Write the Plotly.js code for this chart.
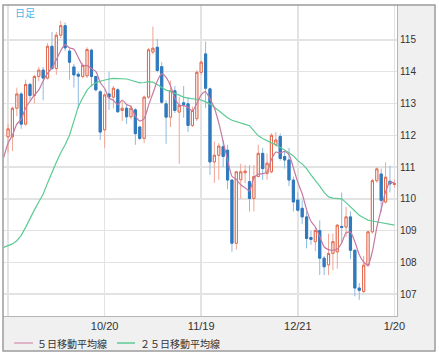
<!DOCTYPE html>
<html>
<head>
<meta charset="utf-8">
<script src="https://cdn.plot.ly/plotly-3.0.1.min.js"></script>
<style>
  html, body { margin: 0; padding: 0; background: #ffffff; }
  #chart { width: 439px; height: 356px; }
</style>
</head>
<body>
<div id="chart"></div>
<script>
// ---- data (daily candles, index 0..88) ----
const open = [111.95,111.95,112.85,113.3,112.35,113.6,113.25,113.85,114.05,113.8,
  114.8,114.1,115.15,115.45,114.65,114.15,113.92,113.85,113.87,114.68,
  113.85,113.37,112.17,113.3,113.2,113.43,112.78,112.85,112.58,112.8,
  112.26,111.9,113.2,114.62,114.77,114.16,112.99,112.57,113.4,112.73,
  113.02,112.99,112.31,112.52,113.98,114.56,113.46,111.16,111.37,111.64,
  111.53,110.59,108.6,110.6,110.82,110.54,110.01,110.7,111.43,110.8,
  110.85,111.7,111.96,111.33,111.22,110.59,109.96,109.7,109.43,108.78,
  108.65,109.0,108.13,107.92,108.28,108.33,109.13,109.11,109.43,108.38,
  107.19,107.08,107.91,108.96,110.57,110.78,109.9,110.55,110.45];
const high = [112.35,112.9,113.5,113.35,113.75,113.65,113.9,114.15,114.15,114.9,
  115.25,115.25,115.6,115.55,114.72,114.25,114.0,114.27,114.77,114.72,
  113.87,113.42,113.32,114.0,113.55,113.48,113.1,112.95,112.95,112.85,
  112.3,113.25,114.75,115.42,115.03,114.3,113.1,113.72,113.55,113.2,
  113.55,113.2,112.9,114.05,114.35,114.95,113.5,111.8,111.75,111.85,
  111.7,110.6,110.85,111.1,111.06,111.06,111.06,111.7,111.6,111.43,
  112.06,112.1,112.06,111.48,111.6,110.7,110.2,109.95,109.6,109.0,
  109.1,109.32,108.2,108.9,108.9,109.2,110.2,109.75,109.6,108.4,
  107.35,108.2,109.0,110.63,110.99,110.95,111.15,111.04,110.6];
const low = [111.45,111.5,112.6,112.2,112.3,113.1,113.0,113.7,113.1,113.75,
  114.05,113.9,115.05,114.65,113.75,113.5,112.85,113.8,113.8,113.53,
  113.38,111.85,111.6,112.8,112.85,112.7,112.45,112.35,112.5,111.7,
  111.85,111.75,113.15,114.55,113.98,112.99,111.73,112.26,112.7,111.1,
  112.55,112.1,112.26,112.45,113.9,112.85,110.75,110.5,110.6,111.0,
  110.3,108.33,108.4,110.0,110.49,109.6,109.6,110.7,110.6,110.6,
  110.8,111.65,111.2,110.95,110.4,109.6,109.6,109.2,108.44,108.55,
  108.35,107.6,107.6,107.6,107.75,107.8,108.6,108.8,108.1,106.93,
  106.82,107.03,107.85,108.9,110.5,109.58,109.85,110.2,110.35];
const close = [112.2,112.85,113.3,112.35,113.6,113.25,113.85,114.05,113.8,114.8,
  114.1,115.15,115.45,114.75,114.3,113.9,113.86,114.2,114.7,113.85,
  113.43,112.1,113.27,113.2,113.48,112.74,112.85,112.58,112.85,112.05,
  111.9,113.2,114.69,114.74,114.04,113.04,112.57,113.4,112.78,112.94,
  112.97,112.31,112.78,113.98,114.3,113.48,111.16,111.37,111.66,111.33,
  110.59,108.6,110.85,110.85,110.87,110.01,110.7,111.43,110.95,111.12,
  112.0,111.85,111.27,111.22,110.59,109.9,109.64,109.43,108.75,108.72,
  109.0,108.13,107.86,108.28,108.65,109.17,109.1,109.43,108.38,107.19,
  107.12,107.91,108.96,110.57,110.94,109.95,110.68,110.47,110.48];

// moving averages, index -1..88
const ma5 = [111.3,111.75,112.0,112.35,112.5,112.86,113.07,113.27,113.42,113.71,113.95,
  114.12,114.38,114.66,114.85,114.75,114.71,114.45,114.2,114.19,114.1,
  114.01,113.66,113.47,113.17,113.1,112.96,113.11,112.97,112.9,112.61,
  112.45,112.52,112.94,113.32,113.71,113.94,113.82,113.56,113.17,112.95,
  112.93,112.88,112.76,113.0,113.27,113.37,113.14,112.86,112.39,111.8,
  111.22,110.71,110.61,110.44,110.35,110.24,110.66,110.77,110.79,110.84,
  111.24,111.47,111.44,111.49,111.39,110.97,110.52,110.16,109.66,109.29,
  109.11,108.81,108.49,108.4,108.38,108.42,108.61,108.93,108.95,108.65,
  108.24,108.01,107.91,108.35,109.1,109.67,110.22,110.52,110.5];
const ma25 = [108.47,108.52,108.58,108.68,108.85,109.1,109.4,109.65,109.9,110.15,110.5,
  110.85,111.15,111.45,111.7,112.0,112.45,112.9,113.17,113.42,113.57,
  113.65,113.7,113.74,113.77,113.79,113.79,113.78,113.77,113.73,113.68,
  113.65,113.66,113.69,113.67,113.6,113.5,113.42,113.38,113.32,113.25,
  113.2,113.17,113.15,113.13,113.11,113.05,112.98,112.88,112.76,112.65,
  112.55,112.47,112.42,112.38,112.34,112.3,112.15,111.98,111.9,111.82,
  111.76,111.7,111.62,111.52,111.45,111.35,111.2,111.1,110.95,110.75,
  110.58,110.4,110.2,110.06,110.02,110.02,110.0,109.88,109.74,109.6,
  109.48,109.4,109.33,109.3,109.27,109.24,109.21,109.19,109.17];

const tickIdx = [0, 22, 44, 66, 88];
const tickLabels = ['', '10/20', '11/19', '12/21', '1/20'];
const yTicks = [107, 108, 109, 110, 111, 112, 113, 114, 115];
const legendNames = ['５日移動平均線', '２５日移動平均線'];

// ---- build traces ----
const days = open.map((_, i) => i);
const maDays = ma5.map((_, i) => i - 1);
const bodyHigh = open.map((o, i) => Math.max(o, close[i]));
const bodyLow = open.map((o, i) => Math.min(o, close[i]));

const wicks = {
  type: 'candlestick', x: days, open: open, high: high, low: low, close: close,
  increasing: { line: { color: '#f0a594', width: 1 }, fillcolor: '#ffffff' },
  decreasing: { line: { color: '#8dbbe3', width: 1 }, fillcolor: '#8dbbe3' },
  whiskerwidth: 0, showlegend: false, hoverinfo: 'skip'
};
const bodies = {
  type: 'candlestick', x: days, open: open, high: bodyHigh, low: bodyLow, close: close,
  increasing: { line: { color: '#e2694e', width: 1 }, fillcolor: '#ffffff' },
  decreasing: { line: { color: '#3079bd', width: 1 }, fillcolor: '#3079bd' },
  whiskerwidth: 0, showlegend: false, hoverinfo: 'skip'
};
const line25 = {
  type: 'scatter', mode: 'lines', x: maDays, y: ma25, name: legendNames[1],
  line: { color: '#5ccb94', width: 1.2 }, showlegend: false, hoverinfo: 'skip'
};
const line5 = {
  type: 'scatter', mode: 'lines', x: maDays, y: ma5, name: legendNames[0],
  line: { color: '#c67aa2', width: 1.2, shape: 'spline', smoothing: 0.6 }, showlegend: false, hoverinfo: 'skip'
};

// pixel -> paper helpers (plot area: x 3..397, y 5..316)
const PX = px => (px - 3) / 394;
const PY = py => (316 - py) / 311;

const shapes = [
  // white strips outside the frame
  { type: 'rect', xref: 'paper', yref: 'paper', x0: PX(-2), x1: PX(3), y0: PY(360), y1: PY(-4), fillcolor: '#ffffff', line: { width: 0 } },
  { type: 'rect', xref: 'paper', yref: 'paper', x0: PX(-2), x1: PX(441), y0: PY(5), y1: PY(-4), fillcolor: '#ffffff', line: { width: 0 } },
  { type: 'rect', xref: 'paper', yref: 'paper', x0: PX(435.5), x1: PX(441), y0: PY(360), y1: PY(-4), fillcolor: '#ffffff', line: { width: 0 } },
  { type: 'rect', xref: 'paper', yref: 'paper', x0: PX(-2), x1: PX(441), y0: PY(360), y1: PY(351), fillcolor: '#ffffff', line: { width: 0 } },
  // frame
  { type: 'rect', xref: 'paper', yref: 'paper', x0: PX(3), x1: PX(435), y0: PY(351), y1: PY(5), line: { color: '#9c9c9c', width: 1.5 } },
  // legend samples
  { type: 'line', xref: 'paper', yref: 'paper', x0: PX(14), x1: PX(33), y0: PY(343), y1: PY(343), line: { color: '#d9a0b9', width: 1.5 } },
  { type: 'line', xref: 'paper', yref: 'paper', x0: PX(117), x1: PX(135), y0: PY(343), y1: PY(343), line: { color: '#5ccb94', width: 1.5 } }
];

const annotations = [
  { xref: 'paper', yref: 'paper', x: PX(13), y: PY(13), xanchor: 'left', yanchor: 'middle', showarrow: false,
    text: '日足', font: { family: 'Noto Sans CJK JP', size: 10, color: '#4fb6e6' } },
  { xref: 'paper', yref: 'paper', x: PX(35), y: PY(343), xanchor: 'left', yanchor: 'middle', showarrow: false,
    text: legendNames[0], font: { family: 'Noto Sans CJK JP', size: 10, color: '#333333' } },
  { xref: 'paper', yref: 'paper', x: PX(138), y: PY(343), xanchor: 'left', yanchor: 'middle', showarrow: false,
    text: legendNames[1], font: { family: 'Noto Sans CJK JP', size: 10, color: '#333333' } }
];

const layout = {
  width: 439, height: 356,
  margin: { l: 3, r: 42, t: 5, b: 40, pad: 0 },
  paper_bgcolor: '#f0f0f0', plot_bgcolor: '#ffffff',
  showlegend: false, hovermode: false,
  xaxis: {
    type: 'linear', range: [-1.15, 88.6], tickmode: 'array', tickvals: tickIdx, ticktext: tickLabels,
    showgrid: true, gridcolor: '#e3e3e3', gridwidth: 1.5, zeroline: false,
    showline: true, linecolor: '#b5b5b5', linewidth: 1, ticks: '',
    tickfont: { family: 'Liberation Sans', size: 11, color: '#333333' },
    rangeslider: { visible: false }, fixedrange: true
  },
  yaxis: {
    side: 'right', range: [106.31, 116.1], tickmode: 'array', tickvals: yTicks,
    showgrid: true, gridcolor: '#e3e3e3', gridwidth: 1.5, zeroline: false,
    showline: true, linecolor: '#b5b5b5', linewidth: 1, ticks: '',
    tickfont: { family: 'Liberation Sans', size: 10, color: '#333333' }, fixedrange: true
  },
  shapes: shapes,
  annotations: annotations
};

Plotly.newPlot('chart', [line25, wicks, bodies, line5], layout, { staticPlot: true, displayModeBar: false });
</script>
</body>
</html>
